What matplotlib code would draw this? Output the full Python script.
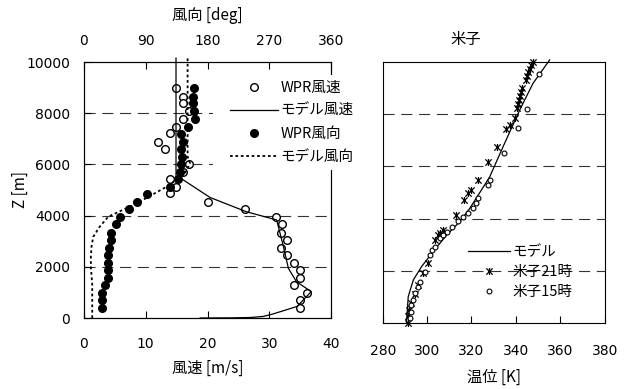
import numpy as np
import matplotlib
matplotlib.use("Agg")
import matplotlib.pyplot as plt
from matplotlib.path import Path
from matplotlib.patches import Rectangle

plt.rcParams['font.family'] = ['DejaVu Sans', 'Noto Sans CJK JP']
plt.rcParams['font.size'] = 10
JP = 'Noto Sans CJK JP'

# ---- left panel: wind speed / direction profiles ----
wpr_speed_z = [9000, 8650, 8390, 8070, 7790, 7470, 7210, 6890, 6620, 6020, 5720, 5430,
               5130, 4870, 4520, 4260, 3930, 3660, 3330, 3060, 2750, 2470, 2160, 1890,
               1560, 1300, 980, 700, 380]
wpr_speed = [14.9, 16.0, 16.0, 17.0, 16.0, 14.9, 14.0, 12.0, 13.1, 17.0, 16.1, 14.0,
             14.9, 14.0, 20.1, 26.0, 31.1, 32.0, 31.9, 32.9, 31.9, 32.9, 34.0, 35.0,
             35.0, 34.0, 36.1, 35.0, 35.0]

wpr_dir_z = [8970, 8650, 8390, 8100, 7790, 7470, 7190, 6890, 6620, 6300, 6000, 5700,
             5430, 5130, 4840, 4520, 4250, 3930, 3660, 3330, 3060, 2750, 2470, 2160,
             1890, 1560, 1300, 980, 700, 380]
wpr_dir = [160, 159, 159, 161, 162, 152, 142, 144, 142, 143, 141, 140,
           137, 125, 92, 77, 65, 52, 46, 39, 39, 36, 35, 35,
           35, 35, 31, 26, 26, 26]

model_speed_z = [0, 5, 20, 60, 150, 300, 450, 1030, 1420, 1940, 2790, 3830, 4150,
                 4710, 5390, 5520, 10150]
model_speed = [18.8, 24.0, 27.0, 29.0, 30.5, 32.5, 34.5, 36.8, 34.4, 33.1, 32.3, 31.2,
               26.3, 20.4, 16.1, 14.9, 14.9]

model_dir_z = [0, 1300, 2000, 2400, 2800, 3180, 3570, 3960, 4110, 4480, 5130, 5650,
               6050, 6300, 10150]
model_dir = [12, 12, 10, 10, 11, 13.6, 23, 35.5, 47.6, 77, 120.5, 147,
             154.5, 151, 151]

# ---- right panel: potential temperature ----
model_theta_z = [0, 1010, 1650, 2160, 2730, 3370, 3880, 4390, 5100, 5600, 6750, 8160,
                 9180, 10080]
model_theta = [290.7, 291.5, 293.8, 297.5, 302.7, 308.8, 314.7, 319.2, 324.5, 328.2,
               334.2, 341.7, 347.7, 355.2]

obs21_z = [0, 250, 500, 750, 1100, 1460, 1900, 2300, 3180, 3370, 3450, 3560, 4120,
           4710, 4970, 5100, 5480, 6180, 6750, 7430, 7590, 7870, 8250, 8400, 8550,
           8700, 8850, 9000, 9300, 9450, 9600, 9750, 9880, 10000]
obs21_theta = [291.3, 291.5, 291.7, 292.9, 294.5, 295.9, 298.0, 300.4, 303.4, 304.9,
               305.8, 307.1, 313.0, 316.7, 318.5, 319.7, 323.0, 327.4, 331.7, 335.7,
               337.2, 339.5, 340.5, 341.0, 341.5, 342.0, 342.4, 342.8, 344.5, 345.0,
               345.6, 346.2, 346.8, 347.5]

obs15_z = [180, 430, 690, 880, 1140, 1390, 1580, 1970, 2610, 2800, 2920, 3250, 3370,
           3500, 3690, 3910, 4070, 4200, 4390, 4610, 4780, 5290, 5480, 6530, 7460,
           8190, 9540]
obs15_theta = [292.1, 292.6, 292.9, 293.6, 294.4, 295.9, 296.6, 298.9, 301.3, 302.0,
               303.5, 305.8, 307.2, 308.8, 311.0, 314.0, 316.2, 318.5, 320.7, 322.2,
               323.0, 327.5, 328.2, 334.5, 341.0, 345.2, 350.4]

W, H = 628, 389
fig = plt.figure(figsize=(W / 100, H / 100), dpi=100)


def frac(x0, y0, x1, y1):
    return [x0 / W, 1 - y1 / H, (x1 - x0) / W, (y1 - y0) / H]


grid_kw = dict(color='#333333', lw=0.8, ls=(0, (10, 6)))
lab_kw = dict(fontsize=11, fontfamily=JP)

ax = fig.add_axes(frac(84, 62, 331, 318))
ax.set_xlim(0, 40)
ax.set_ylim(0, 10000)
ax.set_xticks([0, 10, 20, 30, 40])
ax.set_yticks(range(0, 10001, 2000))
for z in [2000, 4000, 6000, 8000]:
    ax.axhline(z, zorder=0, **grid_kw)
ax.tick_params(direction='in', length=5, labelsize=10)
ax.tick_params(axis='x', pad=14)
ax.tick_params(axis='y', pad=10)
ax.set_xlabel('風速 [m/s]', labelpad=6, **lab_kw)
fig.text(20 / W, 1 - 190 / H, 'Z [m]', rotation=90, ha='center', va='center', **lab_kw)

h1, = ax.plot(wpr_speed, wpr_speed_z, 'o', ms=5.5, mfc='white', mec='black', mew=1,
              ls='none')
h2, = ax.plot(model_speed, model_speed_z, '-', color='black', lw=0.9, clip_on=False)

ax2 = ax.twiny()
ax2.set_xlim(0, 360)
ax2.set_xticks([0, 90, 180, 270, 360])
ax2.tick_params(direction='in', length=5, labelsize=10, pad=10)
ax2.set_xlabel('風向 [deg]', labelpad=10, **lab_kw)
h3, = ax2.plot(wpr_dir, wpr_dir_z, 'o', ms=5.5, color='black', ls='none')
h4, = ax2.plot(model_dir, model_dir_z, color='black', lw=1.3, ls=(0, (1.5, 1.5)),
               clip_on=False)

# white box behind the legend (hides gridlines and the right spine)
box = Rectangle((213 / W, 1 - 170 / H), 152 / W, 95 / H, transform=fig.transFigure,
                facecolor='white', edgecolor='none', zorder=5, clip_on=False)
ax2.add_patch(box)
leg = ax2.legend([h1, h2, h3, h4], ['WPR風速', 'モデル風速', 'WPR風向', 'モデル風向'],
                 loc='upper left', bbox_to_anchor=(0.59, 0.926), frameon=False,
                 prop={'family': JP, 'size': 10.5}, handlelength=3.3,
                 handletextpad=0.2, labelspacing=0.62, borderaxespad=0, borderpad=0)
leg.set_zorder(10)

# ---- right panel ----
star = Path([(-1, -1), (1, 1), (-1, 1), (1, -1), (0, -1.1), (0, 1.1)],
            [Path.MOVETO, Path.LINETO, Path.MOVETO, Path.LINETO, Path.MOVETO, Path.LINETO])

bx = fig.add_axes(frac(382.7, 62, 604.7, 323))
bx.set_xlim(280, 380)
bx.set_ylim(0, 10000)
bx.set_xticks(range(280, 381, 20))
bx.set_yticks(range(0, 10001, 2000))
bx.set_yticklabels([])
for z in [2000, 4000, 6000, 8000]:
    bx.axhline(z, zorder=0, **grid_kw)
bx.tick_params(direction='in', length=5, labelsize=10, pad=15)
bx.tick_params(axis='y', length=0)
bx.set_xlabel('温位 [K]', labelpad=8, **lab_kw)

g1, = bx.plot(model_theta, model_theta_z, '-', color='black', lw=0.9, clip_on=False)
g2, = bx.plot(obs21_theta, obs21_z, ls='none', marker=star, ms=5, mec='black',
              mew=0.9, clip_on=False)
g3, = bx.plot(obs15_theta, obs15_z, 'o', ls='none', ms=3.5, mfc='white', mec='black',
              mew=0.8)
bx.legend([g1, g2, g3], ['モデル', '米子21時', '米子15時'], loc='upper left',
          bbox_to_anchor=(0.382, 0.297), frameon=False,
          prop={'family': JP, 'size': 10.5}, handlelength=2.9, handletextpad=0.2,
          labelspacing=0.4, borderaxespad=0, borderpad=0)

fig.text(466 / W, 1 - 39 / H, '米子', ha='center', va='center', **lab_kw)

fig.savefig('out.png', dpi=100)
